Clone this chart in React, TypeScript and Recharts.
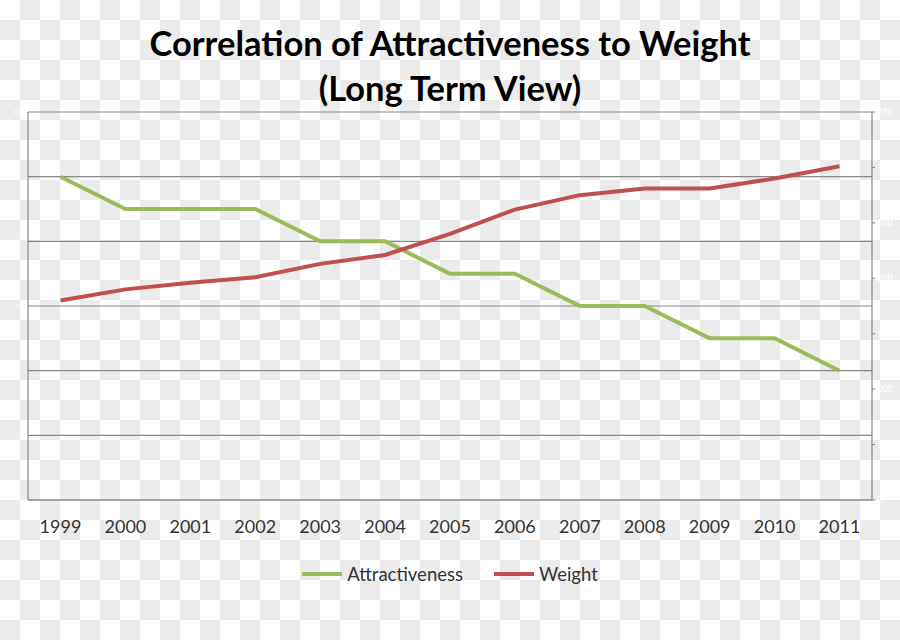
import { LineChart, Line, XAxis, YAxis, CartesianGrid } from 'recharts';

const years = ['1999', '2000', '2001', '2002', '2003', '2004', '2005', '2006', '2007', '2008', '2009', '2010', '2011'];
const attractiveness = [10, 9, 9, 9, 8, 8, 7, 7, 6, 6, 5, 5, 4];
const weight = [180, 190, 196, 201, 213, 221, 240, 262, 275, 281, 281, 290, 301];
const leftTicks = [0, 2, 4, 6, 8, 10, 12];
const rightTicks = [0, 50, 100, 150, 200, 250, 300, 350];

const data = years.map((year, i) => ({
    year,
    attractiveness: attractiveness[i],
    weight: weight[i],
}));

const GREEN = '#9BBB59';
const RED = '#C0504D';
const AXIS = '#878787';
const FONT = 'Lato, "Open Sans", sans-serif';

function ChartLegend() {
    const items = [
        { label: 'Attractiveness', color: GREEN },
        { label: 'Weight', color: RED },
    ];
    return (
        <div
            style={{
                position: 'absolute',
                top: 562,
                left: 0,
                width: 900,
                display: 'flex',
                justifyContent: 'center',
                gap: 31,
                fontFamily: FONT,
                fontSize: 18.5,
                lineHeight: '24px',
                color: '#333',
            }}
        >
            {items.map((it) => (
                <div key={it.label} style={{ display: 'flex', alignItems: 'center' }}>
                    <span style={{ display: 'inline-block', width: 40, height: 4, background: it.color, marginRight: 5 }} />
                    <span>{it.label}</span>
                </div>
            ))}
        </div>
    );
}

export default function App() {
    return (
        <div
            style={{
                position: 'relative',
                width: 900,
                height: 640,
                background: 'repeating-conic-gradient(#ebebeb 0 25%, #ffffff 0 50%) 0 0 / 40px 40px',
                fontFamily: FONT,
            }}
        >
            <style>{`body { margin: 0; }`}</style>

            {/* Title */}
            <div
                style={{
                    position: 'absolute',
                    top: 20,
                    left: 0,
                    width: 900,
                    textAlign: 'center',
                    fontWeight: 700,
                    fontSize: 34.5,
                    lineHeight: '45px',
                    color: '#000',
                }}
            >
                <div>Correlation of Attractiveness to Weight</div>
                <div>(Long Term View)</div>
            </div>

            <LineChart
                width={900}
                height={640}
                data={data}
                margin={{ top: 112, right: 0, left: 0, bottom: 100 }}
                style={{ position: 'absolute', top: 0, left: 0 }}
            >
                <CartesianGrid vertical={false} stroke={AXIS} strokeWidth={1.2} yAxisId="left" />
                <XAxis
                    dataKey="year"
                    padding={{ left: 32.5, right: 32.5 }}
                    axisLine={{ stroke: AXIS, strokeWidth: 1.2 }}
                    tickLine={false}
                    tick={{ fontSize: 18, fill: '#333', fontFamily: FONT }}
                    tickMargin={14}
                    height={40}
                />
                <YAxis
                    yAxisId="left"
                    domain={[0, 12]}
                    ticks={leftTicks}
                    width={28}
                    axisLine={{ stroke: AXIS, strokeWidth: 1.2 }}
                    tickLine={false}
                    tick={{ fontSize: 6, fill: '#ffffff' }}
                />
                <YAxis
                    yAxisId="right"
                    orientation="right"
                    domain={[0, 350]}
                    ticks={rightTicks}
                    width={28}
                    axisLine={{ stroke: AXIS, strokeWidth: 1.2 }}
                    tickLine={{ stroke: AXIS }}
                    tickSize={3}
                    tick={{ fontSize: 9, fill: '#ffffff' }}
                />
                <Line
                    yAxisId="left"
                    type="linear"
                    dataKey="attractiveness"
                    name="Attractiveness"
                    stroke={GREEN}
                    strokeWidth={4}
                    dot={false}
                    isAnimationActive={false}
                />
                <Line
                    yAxisId="right"
                    type="linear"
                    dataKey="weight"
                    name="Weight"
                    stroke={RED}
                    strokeWidth={4}
                    dot={false}
                    isAnimationActive={false}
                />
            </LineChart>
            <ChartLegend />
        </div>
    );
}
